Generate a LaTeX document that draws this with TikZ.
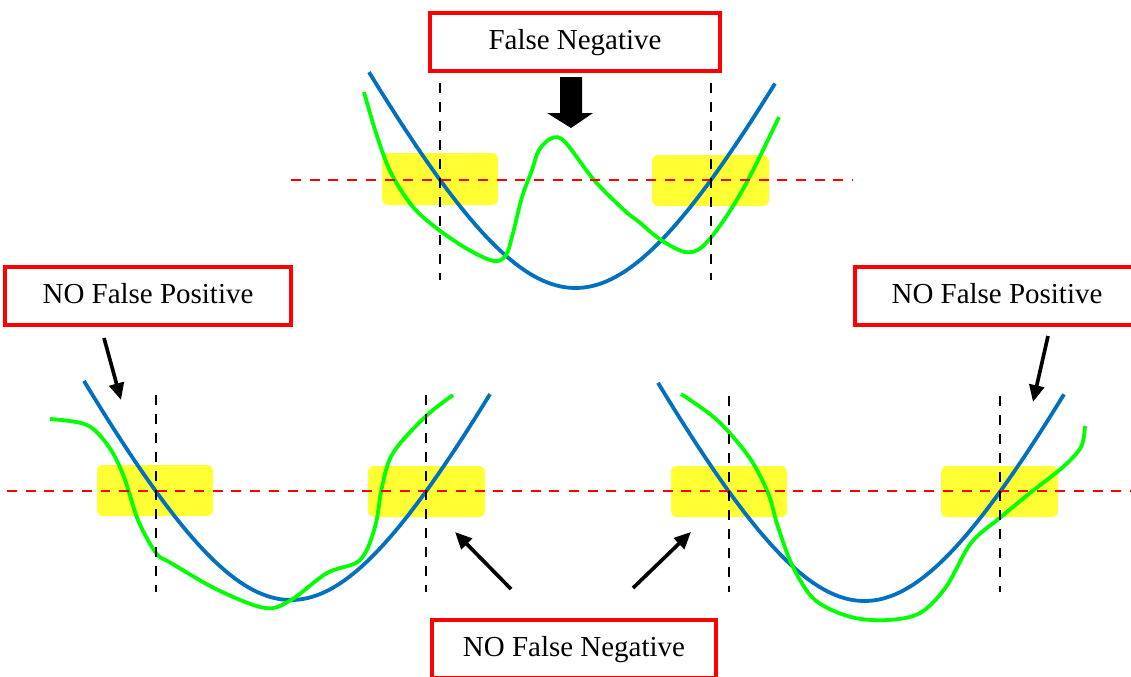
\documentclass[tikz,border=0pt]{standalone}
\usepackage{fontspec}
\setmainfont{Liberation Serif}
\usetikzlibrary{arrows.meta}
\definecolor{cblue}{RGB}{0,112,192}
\definecolor{cgreen}{RGB}{0,255,0}
\definecolor{cred}{RGB}{255,0,0}
\definecolor{cyel}{RGB}{255,255,51}
\tikzset{
  labelbox/.style={draw=cred, line width=2.8pt, fill=white, minimum height=1.45cm, inner sep=0pt,
    text height=14pt, text depth=4pt, font=\fontsize{20.6}{24}\selectfont},
  hl/.style={fill=cyel, rounded corners=0.15cm},
  thr/.style={cred, dash pattern=on 7.1pt off 6.2pt, line width=2.1pt},
  vdash/.style={black, dash pattern=on 7pt off 6.5pt, line width=2pt},
  model/.style={cblue, line width=2.7pt},
  data/.style={cgreen, line width=2.7pt},
  ptr/.style={black, -{Triangle[length=12pt,width=10.5pt]}, line width=2.6pt}
}
\begin{document}
\begin{tikzpicture}[x=0.025cm,y=-0.025cm]
\useasboundingbox (0,0) rectangle (1131,677);
% highlight areas
\fill[hl] (382,153) rectangle (498,205);
\fill[hl] (652,155) rectangle (769,206);
\fill[hl] (97,465) rectangle (213,516);
\fill[hl] (368,466) rectangle (485,517);
\fill[hl] (671,466) rectangle (787,517);
\fill[hl] (941,466) rectangle (1058,517);
% model curves
\draw[model] plot[domain=369:775, samples=90] (\x, {288+276-276*sqrt(1+((\x-575.5)/140)^2)});
\draw[model] plot[domain=84:490, samples=90] (\x, {600+279-279*sqrt(1+((\x-291)/140)^2)});
\draw[model] plot[domain=658:1064, samples=90] (\x, {601+279-279*sqrt(1+((\x-864.5)/140)^2)});
% data curves
\draw[data] plot[smooth, tension=0.55] coordinates {(364,92) (376,133) (391,173) (413,207) (439,230) (469,250) (494,261) (506,255) (513,233) (522,197) (532,170) (539,150) (552,138) (565,142) (594,180) (624,210) (639,222) (661,240) (685,252) (702,247) (724,220) (748,180) (779,117)};
\draw[data] plot[smooth, tension=0.55] coordinates {(50,419) (87,425) (109,447) (124,477) (138,520) (156,553) (171,563) (218,590) (265,608) (291,600) (327,573) (360,560) (375,527) (382,487) (393,453) (425,417) (453,395)};
\draw[data] plot[smooth, tension=0.55] coordinates {(681,394) (717,420) (749,457) (768,493) (778,527) (793,567) (815,600) (851,617) (888,620) (920,613) (946,587) (971,543) (1001,517) (1030,493) (1063,467) (1081,447) (1085,426)};
% thresholds
\draw[thr] (291,180) -- (853,180);
\draw[thr] (7,491) -- (565,491);
\draw[thr] (569,491) -- (1131,491);
% decision boundaries
\draw[vdash] (440,83) -- (440,280);
\draw[vdash] (711,83) -- (711,280);
\draw[vdash] (156,395) -- (156,592);
\draw[vdash] (426,395) -- (426,592);
\draw[vdash] (729,396) -- (729,592);
\draw[vdash] (1000,396) -- (1000,592);
% labels
\node[labelbox, minimum width=7.25cm] (fn) at (575,42) {False Negative};
\node[labelbox, minimum width=7.15cm] (nfpl) at (148,296) {NO False Positive};
\node[labelbox, minimum width=7.1cm] (nfpr) at (997,296) {NO False Positive};
\node[labelbox, minimum width=7.12cm] (nfn) at (574,649) {NO False Negative};
% thick arrow
\fill[black] (560,77) -- (582,77) -- (582,113) -- (593,113) -- (571,128) -- (547,113) -- (560,113) -- cycle;
% pointer arrows
\coordinate (p1s) at (104,338); \coordinate (p1e) at (121,400);
\coordinate (p2s) at (1048,336); \coordinate (p2e) at (1033,402);
\coordinate (p3s) at (511,589); \coordinate (p3e) at (455,532);
\coordinate (p4s) at (633,588); \coordinate (p4e) at (691,532);
\draw[ptr] (p1s) -- (p1e);
\draw[ptr] (p2s) -- (p2e);
\draw[ptr] (p3s) -- (p3e);
\draw[ptr] (p4s) -- (p4e);
\end{tikzpicture}
\end{document}
